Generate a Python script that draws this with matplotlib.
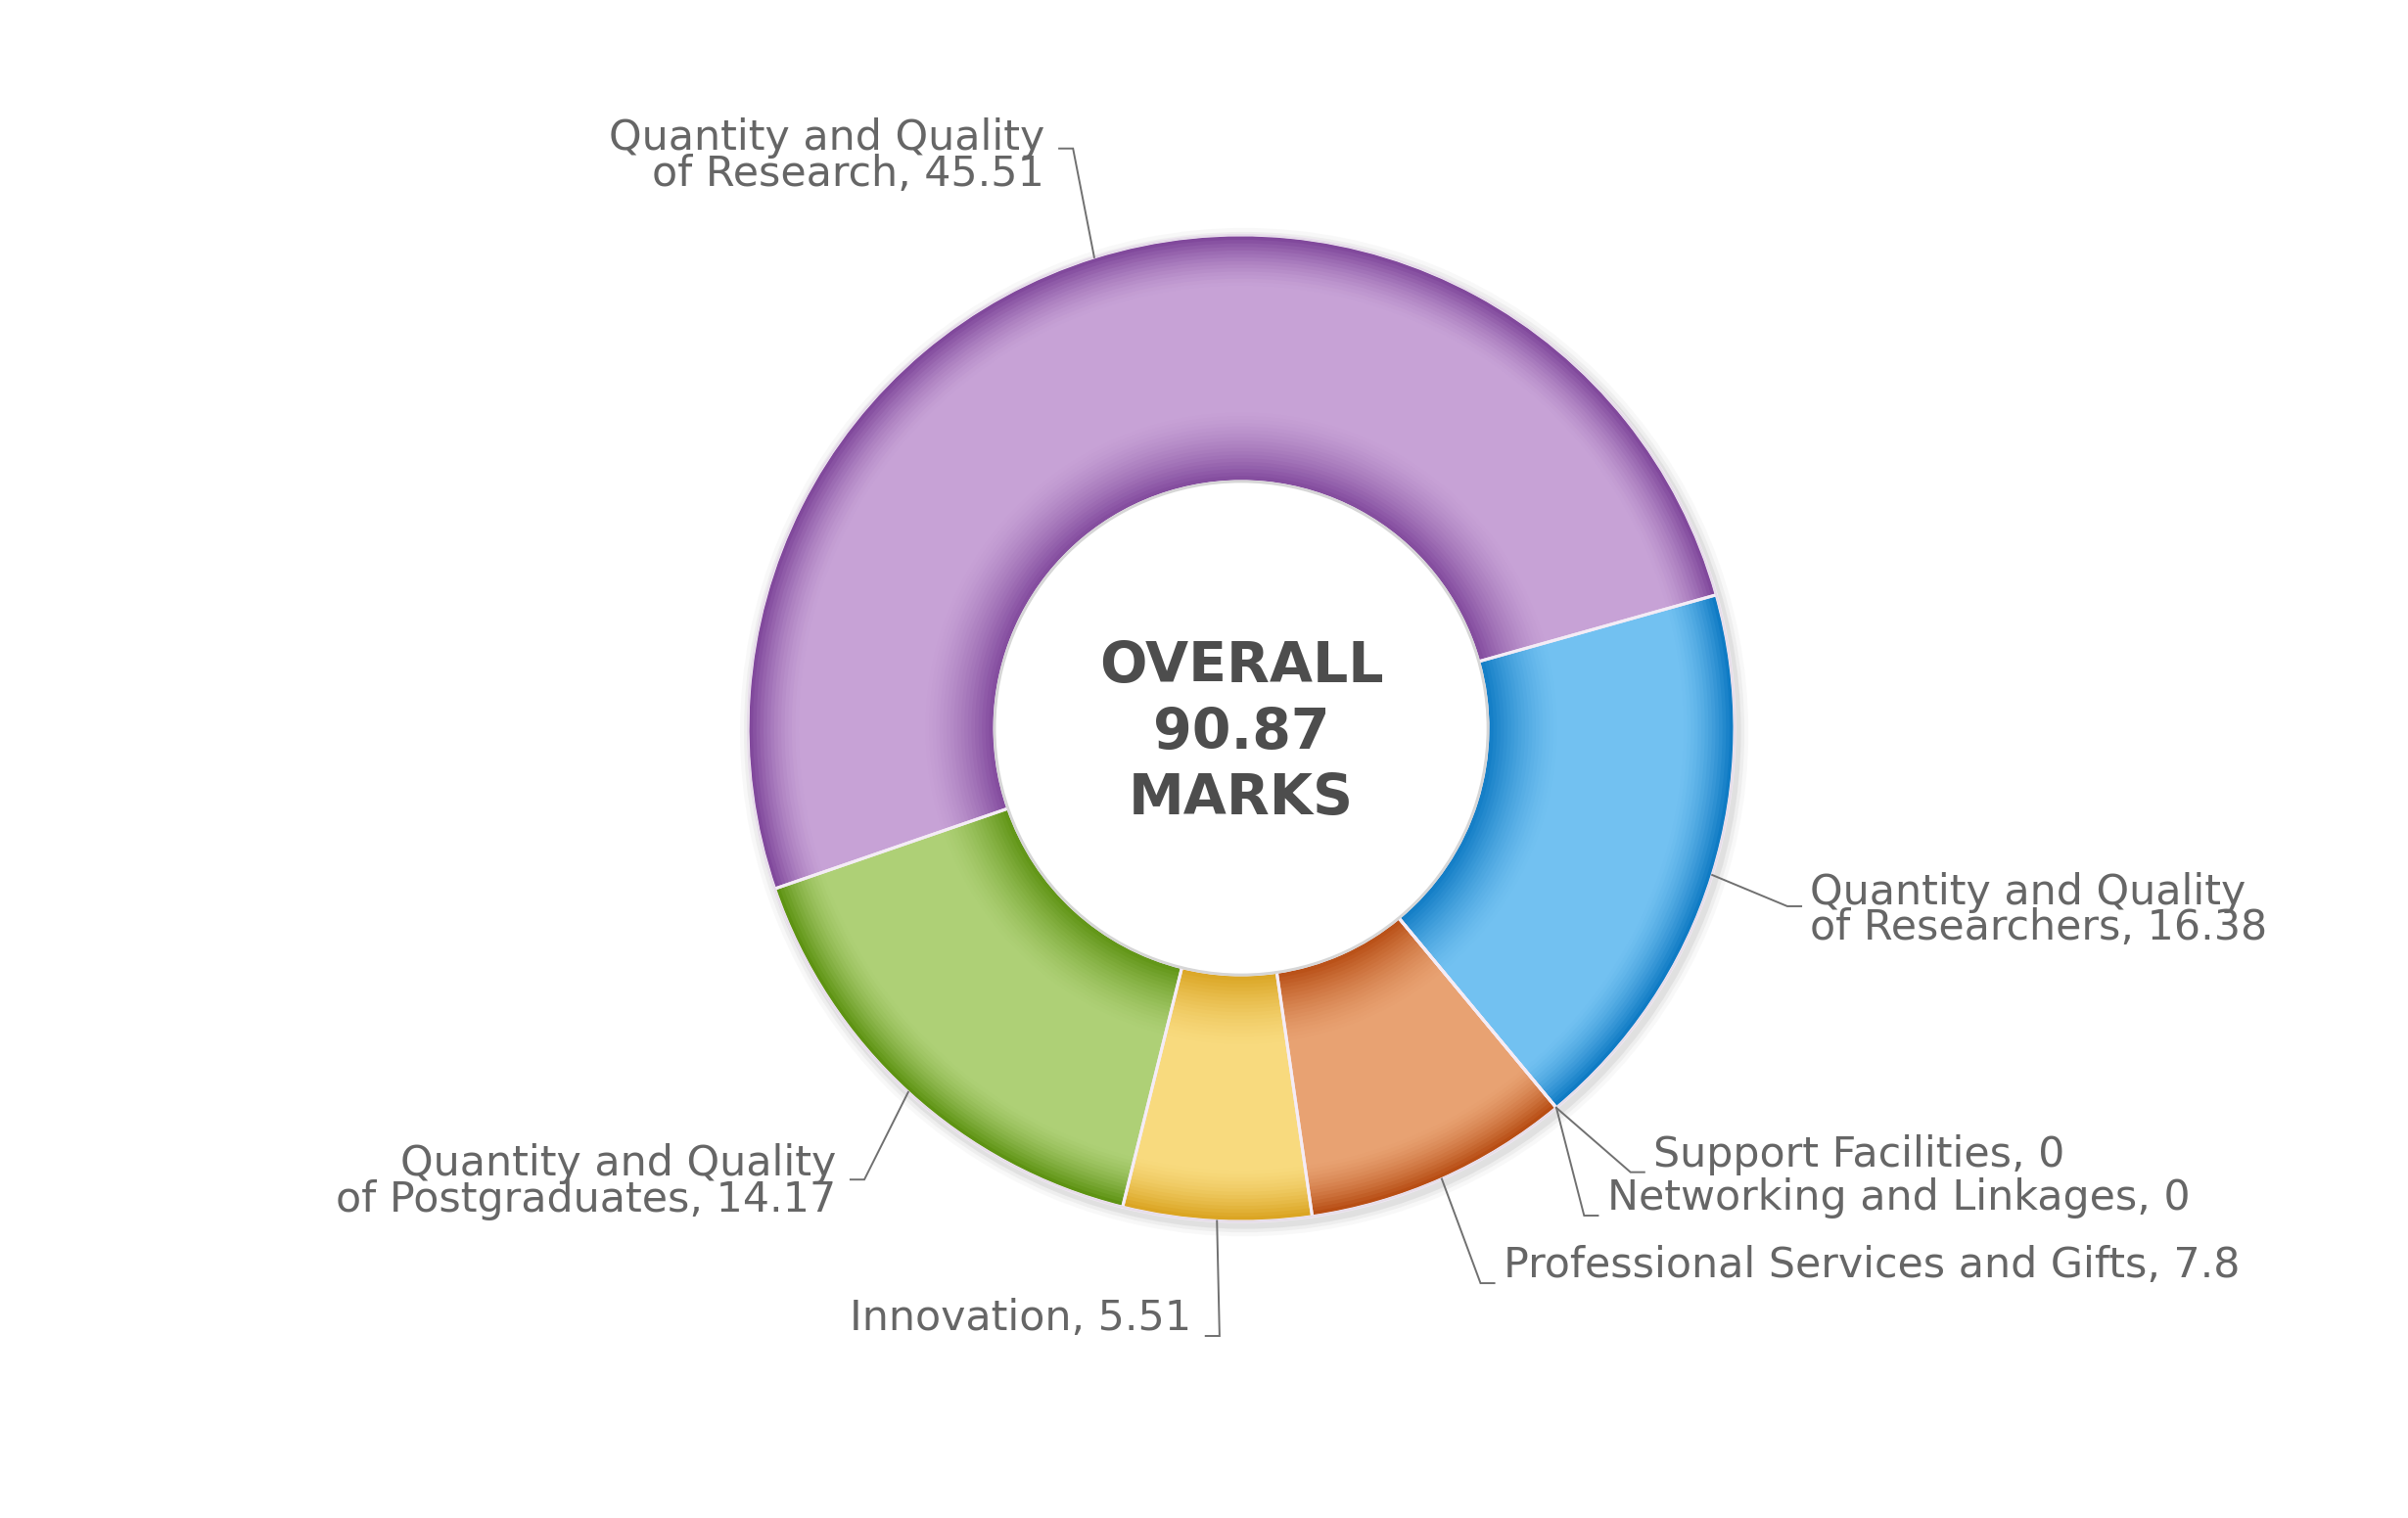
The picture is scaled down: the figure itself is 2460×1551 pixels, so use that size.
import numpy as np
import matplotlib
matplotlib.use("Agg")
import matplotlib.pyplot as plt
from matplotlib.colors import to_rgb

# ---- data ----
categories = ["Quantity and Quality\nof Research",
              "Quantity and Quality\nof Researchers",
              "Support Facilities",
              "Networking and Linkages",
              "Professional Services and Gifts",
              "Innovation",
              "Quantity and Quality\nof Postgraduates"]
values = [45.51, 16.38, 0, 0, 7.8, 5.51, 14.17]
value_labels = ["45.51", "16.38", "0", "0", "7.8", "5.51", "14.17"]
center_title = "OVERALL\n90.87\nMARKS"

# ---- styles ----
light_colors = ["#C7A2D6", "#72C1F1", "#BBBBBB", "#BBBBBB", "#E8A272", "#F8DA7E", "#AED076"]
dark_colors = ["#7D4499", "#0A77C2", "#888888", "#888888", "#B5490F", "#D9A21E", "#5A900E"]

# label layout: elbow point (units of outer radius), side, extra vertical offset
elbows = [(-0.341, 1.175), (1.107, -0.361), (0.789, -0.900), (0.695, -0.988),
          (0.485, -1.125), (-0.044, -1.232), (-0.764, -0.915)]
sides = [-1, 1, 1, 1, 1, -1, -1]
ydelta = [-0.008, 0.0, 0.0, 0.0, 0.0, 0.0, 0.004]

START = 199.0
INNER = 0.5
TEXT_COLOR = "#666666"

fig = plt.figure(figsize=(24.6, 15.51), dpi=100)
ax = fig.add_axes([0, 0, 1, 1])

# soft outer shadow
for rr, a in [(1.022, 0.05), (1.014, 0.08), (1.007, 0.12)]:
    ax.pie([1], radius=rr, center=(0.006, -0.008), colors=["#808080"],
           wedgeprops=dict(width=rr - INNER, edgecolor="none", alpha=a))

# shaded ring: radial bands
N = 70
dr = (1.0 - INNER) / N
lights = np.array([to_rgb(c) for c in light_colors])
darks = np.array([to_rgb(c) for c in dark_colors])
for k in range(N):
    t = (k + 0.5) / N
    d_in = np.clip(1 - t / 0.30, 0, 1) ** 1.5
    d_out = np.clip((t - 0.79) / 0.21, 0, 1) ** 1.5
    d = max(d_in, d_out)
    cols = lights * (1 - d) + darks * d
    r_out = INNER + (k + 1) * dr
    ax.pie(values, radius=r_out, startangle=START, counterclock=False,
           colors=[tuple(c) for c in cols],
           wedgeprops=dict(width=dr + 0.003, edgecolor="none", linewidth=0))

# separators + outline
wedges, _ = ax.pie(values, radius=1.0, startangle=START, counterclock=False,
                   colors=["none"] * len(values),
                   wedgeprops=dict(width=1.0 - INNER, edgecolor="#F4ECF6", linewidth=2.2))
ax.add_patch(plt.Circle((0, 0), 1.0, fill=False, ec="#E6DDE9", lw=1.5))
ax.add_patch(plt.Circle((0, 0), INNER, fc="white", ec="#D6D6D6", lw=2.0, zorder=5))

# connectors and labels
for w, cat, vl, (ex, ey), side, yd in zip(wedges, categories, value_labels,
                                          elbows, sides, ydelta):
    mid = np.deg2rad((w.theta1 + w.theta2) / 2.0)
    px, py = np.cos(mid), np.sin(mid)
    tx = ex + side * 0.028
    ax.plot([px, ex, tx], [py, ey, ey], color="#707070", lw=1.4, zorder=6,
            solid_joinstyle="miter")
    txt = f"{cat}, {vl}"
    multi = "\n" in txt
    yoff = (-0.008 if multi else 0.035) + yd
    gap = 0.03 if side < 0 else 0.018
    ax.text(tx + side * gap, ey + yoff, txt, ha="left" if side > 0 else "right",
            va="center", fontsize=30.8, color=TEXT_COLOR, linespacing=0.84,
            multialignment="right" if side < 0 else "left",
            family="DejaVu Sans", zorder=7)

ax.text(0, -0.01, center_title, ha="center", va="center", fontsize=41,
        fontweight="bold", color="#4D4D4D", linespacing=1.3,
        family="DejaVu Sans", zorder=8)

ax.set_xlim(-2.516, 2.365)
ax.set_ylim(-1.601, 1.476)
ax.set_aspect("auto")
ax.axis("off")
fig.savefig("out.png", dpi=100, facecolor="white")
